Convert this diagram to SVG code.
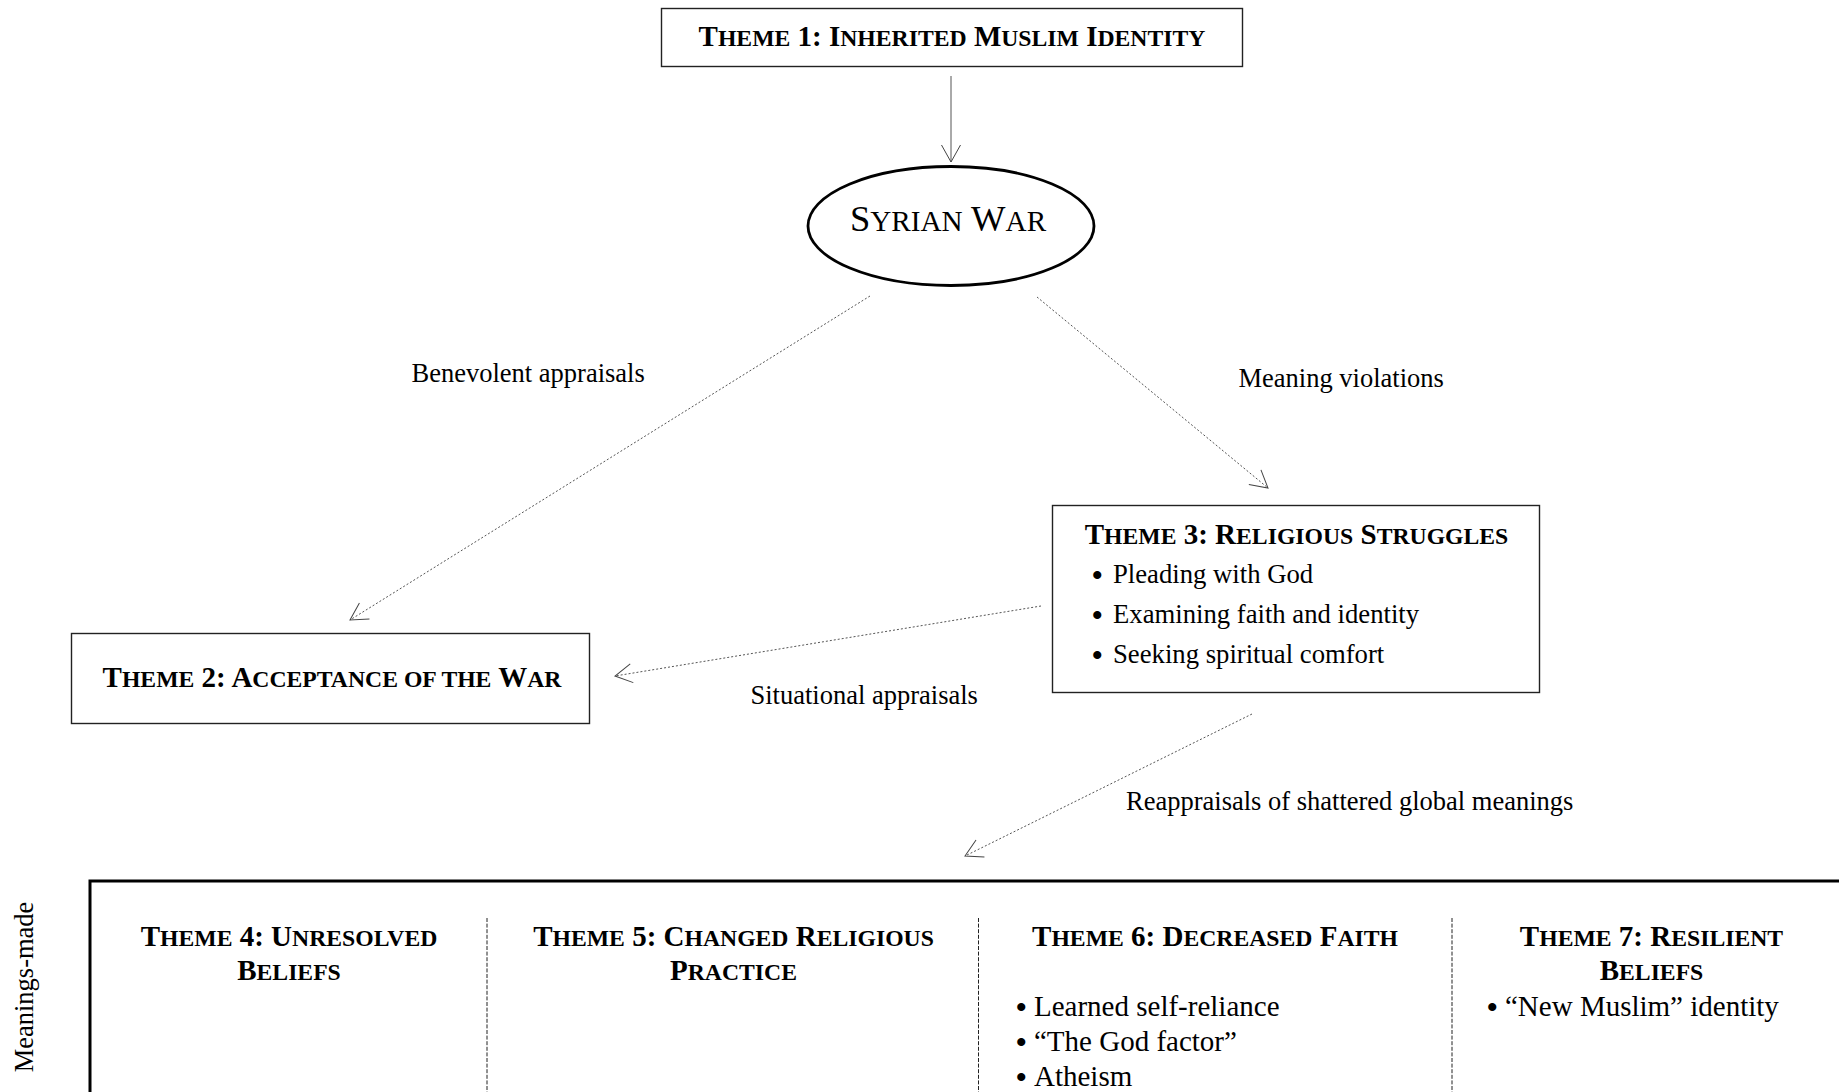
<svg xmlns="http://www.w3.org/2000/svg" width="1839" height="1092" viewBox="0 0 1839 1092">
<style>
text{font-family:"Liberation Serif","Times New Roman",serif;fill:#000}
.hd{font-weight:bold;font-size:29px;text-anchor:middle}
.sc{font-size:23.7px}
.lbl{font-size:26.5px}
.b3{font-size:26.7px}
.b6{font-size:29px}
.bul{font-weight:bold;font-size:30px}
.box{fill:#fff;stroke:#222;stroke-width:1.4}
.conn{fill:none;stroke:#555;stroke-width:1}
.dot{stroke-dasharray:2 2}
.sep{stroke:#222;stroke-width:1;stroke-dasharray:4 1.6}
</style>
<defs>
<marker id="arr" markerUnits="userSpaceOnUse" viewBox="-20 -20 40 40" markerWidth="40" markerHeight="40" refX="0" refY="0" orient="auto" overflow="visible">
<path d="M-17,-9.5 L0,0 L-17,9.5" fill="none" stroke="#444" stroke-width="1"/>
</marker>
</defs>
<rect width="1839" height="1092" fill="#fff"/>

<g id="connectors">
<line class="conn" x1="951" y1="76" x2="951" y2="162" marker-end="url(#arr)"/>
<line class="conn dot" x1="870" y1="296" x2="350" y2="620" marker-end="url(#arr)"/>
<line class="conn dot" x1="1037" y1="297" x2="1268" y2="488" marker-end="url(#arr)"/>
<line class="conn dot" x1="1041" y1="606" x2="615" y2="676" marker-end="url(#arr)"/>
<line class="conn dot" x1="1252" y1="714" x2="965" y2="856" marker-end="url(#arr)"/>
<text class="lbl" x="411.5" y="382">Benevolent appraisals</text>
<text class="lbl" x="1238.5" y="387">Meaning violations</text>
<text class="lbl" x="750.5" y="704">Situational appraisals</text>
<text class="lbl" x="1126" y="810">Reappraisals of shattered global meanings</text>
</g>

<g id="theme1">
<rect class="box" x="661.5" y="8.5" width="581" height="58"/>
<text class="hd" x="952" y="46">T<tspan class="sc">HEME</tspan> 1: I<tspan class="sc">NHERITED</tspan> M<tspan class="sc">USLIM</tspan> I<tspan class="sc">DENTITY</tspan></text>
</g>

<g id="syrian-war">
<ellipse cx="951" cy="226" rx="143" ry="59.5" fill="#fff" stroke="#000" stroke-width="2.8"/>
<text x="948" y="231" text-anchor="middle" font-size="36.5">S<tspan font-size="29.2">YRIAN</tspan> W<tspan font-size="29.2">AR</tspan></text>
</g>

<g id="theme2">
<rect class="box" x="71.5" y="633.5" width="518" height="90"/>
<text class="hd" x="332" y="687">T<tspan class="sc">HEME</tspan> 2: A<tspan class="sc">CCEPTANCE OF THE</tspan> W<tspan class="sc">AR</tspan></text>
</g>

<g id="theme3">
<rect class="box" x="1052.5" y="505.5" width="487" height="187"/>
<text class="hd" x="1296.5" y="544">T<tspan class="sc">HEME</tspan> 3: R<tspan class="sc">ELIGIOUS</tspan> S<tspan class="sc">TRUGGLES</tspan></text>
<text class="b3"><tspan class="bul" x="1092" y="585">•</tspan><tspan x="1113" y="583">Pleading with God</tspan></text>
<text class="b3"><tspan class="bul" x="1092" y="625">•</tspan><tspan x="1113" y="623">Examining faith and identity</tspan></text>
<text class="b3"><tspan class="bul" x="1092" y="665">•</tspan><tspan x="1113" y="663">Seeking spiritual comfort</tspan></text>
</g>

<g id="meanings-made">
<rect x="90" y="881" width="1770" height="230" fill="none" stroke="#000" stroke-width="3"/>
<text x="0" y="0" font-size="26.5" text-anchor="middle" transform="translate(33,987) rotate(-90)">Meanings-made</text>
<line class="sep" x1="487" y1="918" x2="487" y2="1092"/>
<line class="sep" x1="978.5" y1="918" x2="978.5" y2="1092"/>
<line class="sep" x1="1452" y1="918" x2="1452" y2="1092"/>
</g>

<g id="theme4">
<text class="hd" x="289" y="946">T<tspan class="sc">HEME</tspan> 4: U<tspan class="sc">NRESOLVED</tspan></text>
<text class="hd" x="289" y="980">B<tspan class="sc">ELIEFS</tspan></text>
</g>

<g id="theme5">
<text class="hd" x="733.5" y="946">T<tspan class="sc">HEME</tspan> 5: C<tspan class="sc">HANGED</tspan> R<tspan class="sc">ELIGIOUS</tspan></text>
<text class="hd" x="733.5" y="980">P<tspan class="sc">RACTICE</tspan></text>
</g>

<g id="theme6">
<text class="hd" x="1215" y="946">T<tspan class="sc">HEME</tspan> 6: D<tspan class="sc">ECREASED</tspan> F<tspan class="sc">AITH</tspan></text>
<text class="b6"><tspan class="bul" x="1016" y="1016.5">•</tspan><tspan x="1034" y="1015.5">Learned self-reliance</tspan></text>
<text class="b6"><tspan class="bul" x="1016" y="1052">•</tspan><tspan x="1034" y="1051">“The God factor”</tspan></text>
<text class="b6"><tspan class="bul" x="1016" y="1087">•</tspan><tspan x="1034" y="1086">Atheism</tspan></text>
</g>

<g id="theme7">
<text class="hd" x="1651.5" y="946">T<tspan class="sc">HEME</tspan> 7: R<tspan class="sc">ESILIENT</tspan></text>
<text class="hd" x="1651.5" y="980">B<tspan class="sc">ELIEFS</tspan></text>
<text class="b6"><tspan class="bul" x="1487" y="1016.5">•</tspan><tspan x="1505" y="1015.5">“New Muslim” identity</tspan></text>
</g>
</svg>
